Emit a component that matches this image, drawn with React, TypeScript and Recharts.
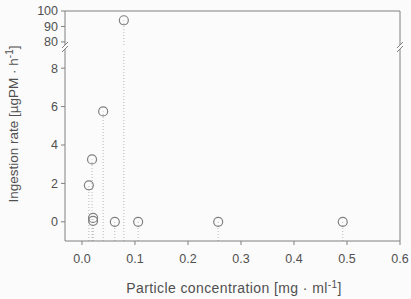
import {
  ComposedChart,
  Scatter,
  XAxis,
  YAxis,
  ReferenceLine,
} from 'recharts';

// particle concentration [mg/ml] and ingestion rate [µgPM/h]
const concentration = [0.013, 0.019, 0.021, 0.021, 0.04, 0.062, 0.079, 0.106, 0.257, 0.492];
const ingestion = [1.9, 3.25, 0.2, 0.05, 5.75, 0, 94, 0, 0, 0];

const xTicks = [0, 0.1, 0.2, 0.3, 0.4, 0.5, 0.6];
const lowerTicks = [0, 2, 4, 6, 8];
const upperTicks = [80, 90, 100];

const X_DOMAIN: [number, number] = [-0.032, 0.6];
const LOWER_DOMAIN: [number, number] = [-1, 9];
const UPPER_DOMAIN: [number, number] = [78, 100];

const W = 411;
const H = 299;
const BG = '#fbfbfb';
const FONT = '"Liberation Sans", Arial, sans-serif';
const AXIS = '#808080';
const TEXT = '#505050';
const DROP = '#b8b8b8';

const points = concentration.map((x, i) => ({ x, y: ingestion[i] }));
const lowerPoints = points.filter((p) => p.y <= LOWER_DOMAIN[1]);
const upperPoints = points.filter((p) => p.y >= UPPER_DOMAIN[0]);

const tickStyle = { fill: TEXT, fontSize: 12.5, fontFamily: FONT };

function OpenCircle(props: any) {
  const { cx, cy } = props;
  if (cx == null || cy == null) return null;
  return <circle cx={cx} cy={cy} r={4.5} fill="none" stroke="#808080" strokeWidth={1.2} />;
}

function BreakMark({ x, y }: { x: number; y: number }) {
  return (
    <g stroke={AXIS} strokeWidth={1}>
      <line x1={x - 3} y1={y + 1} x2={x + 3} y2={y - 5} />
      <line x1={x - 3} y1={y + 5} x2={x + 3} y2={y - 1} />
    </g>
  );
}

export default function App() {
  return (
    <div
      style={{
        position: 'absolute',
        left: 0,
        top: 0,
        width: W,
        height: H,
        background: BG,
        overflow: 'hidden',
      }}
    >
      {/* upper segment 78..100 */}
      <div style={{ position: 'absolute', left: 0, top: 0 }}>
        <ComposedChart width={W} height={48} margin={{ top: 11, right: 11, bottom: 3, left: 0 }}>
          <XAxis type="number" dataKey="x" domain={X_DOMAIN} allowDataOverflow hide />
          <YAxis
            type="number"
            dataKey="y"
            width={65}
            domain={UPPER_DOMAIN}
            ticks={upperTicks}
            interval={0}
            allowDataOverflow
            tick={tickStyle}
            tickSize={4}
            tickMargin={3}
            stroke={AXIS}
          />
          <ReferenceLine y={100} stroke={AXIS} />
          <ReferenceLine x={0.6} stroke={AXIS} />
          {upperPoints.map((p, i) => (
            <ReferenceLine
              key={`u-${i}`}
              segment={[{ x: p.x, y: UPPER_DOMAIN[0] }, { x: p.x, y: p.y }]}
              stroke={DROP}
              strokeDasharray="1 2"
            />
          ))}
          <Scatter data={upperPoints} dataKey="y" shape={OpenCircle} isAnimationActive={false} />
        </ComposedChart>
      </div>

      {/* lower segment -1..9 */}
      <div style={{ position: 'absolute', left: 0, top: 0 }}>
        <ComposedChart width={W} height={H} margin={{ top: 49, right: 11, bottom: 0, left: 0 }}>
          <XAxis
            type="number"
            dataKey="x"
            domain={X_DOMAIN}
            ticks={xTicks}
            interval={0}
            allowDataOverflow
            height={58}
            tick={tickStyle}
            tickSize={4}
            tickMargin={9}
            tickFormatter={(v: number) => v.toFixed(1)}
            stroke={AXIS}
          />
          <YAxis
            type="number"
            dataKey="y"
            width={65}
            domain={LOWER_DOMAIN}
            ticks={lowerTicks}
            interval={0}
            allowDataOverflow
            tick={tickStyle}
            tickSize={4}
            tickMargin={3}
            stroke={AXIS}
          />
          <ReferenceLine x={0.6} stroke={AXIS} />
          {points.map((p, i) => (
            <ReferenceLine
              key={`l-${i}`}
              segment={[
                { x: p.x, y: LOWER_DOMAIN[0] },
                { x: p.x, y: Math.min(p.y, LOWER_DOMAIN[1]) },
              ]}
              stroke={DROP}
              strokeDasharray="1 2"
            />
          ))}
          <Scatter data={lowerPoints} dataKey="y" shape={OpenCircle} isAnimationActive={false} />
        </ComposedChart>
      </div>

      {/* axis titles and break marks */}
      <svg
        width={W}
        height={H}
        style={{ position: 'absolute', left: 0, top: 0, pointerEvents: 'none' }}
      >
        <rect x={60} y={45} width={10} height={4} fill={BG} />
        <rect x={395} y={45} width={10} height={4} fill={BG} />
        <BreakMark x={65} y={47} />
        <BreakMark x={400} y={47} />
        <text
          x={234}
          y={293}
          textAnchor="middle"
          fontFamily={FONT}
          fontSize={14}
          letterSpacing={0.4}
          fill={TEXT}
        >
          Particle concentration [mg · ml
          <tspan dy={-5} fontSize={10}>-1</tspan>
          <tspan dy={5}>]</tspan>
        </text>
        <text
          transform="translate(18 124) rotate(-90)"
          textAnchor="middle"
          fontFamily={FONT}
          fontSize={13.5}
          fill={TEXT}
        >
          Ingestion rate [µgPM · h
          <tspan dy={-5} fontSize={10}>-1</tspan>
          <tspan dy={5}>]</tspan>
        </text>
      </svg>
    </div>
  );
}
